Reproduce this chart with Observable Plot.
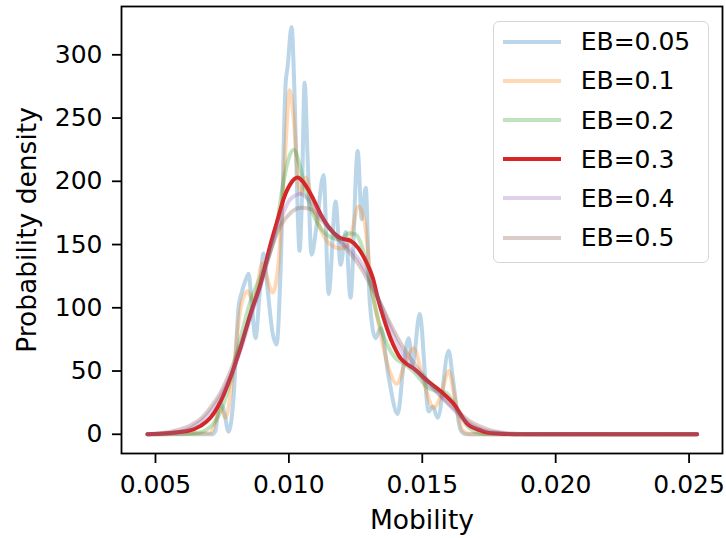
<!DOCTYPE html>
<html>
<head>
<meta charset="utf-8">
<script src="https://cdn.jsdelivr.net/npm/d3@7"></script>
<script src="https://cdn.jsdelivr.net/npm/@observablehq/plot@0.6"></script>
<style>
  html, body { margin: 0; padding: 0; background: white; }
  #wrap { position: relative; width: 726px; height: 538px; font-family: "DejaVu Sans", sans-serif; }
  #legend { position: absolute; box-sizing: border-box; background: white; border: 1.5px solid #d6d6d6; border-radius: 6px; }
  .row { position: absolute; height: 30px; display: flex; align-items: center; font-size: 25px; color: black; }
  .sw { position: absolute; height: 4px; }
  g[aria-label="x-axis label"], g[aria-label="y-axis label"] { font-size: 26.5px; }
</style>
</head>
<body>
<div id="wrap"></div>
<script>
// ---- data ----
const seriesNames = ["EB=0.05", "EB=0.1", "EB=0.2", "EB=0.3", "EB=0.4", "EB=0.5"];
const seriesColors = ["#1f77b4", "#ff7f0e", "#2ca02c", "#d62728", "#9467bd", "#8c564b"];
const seriesAlpha = [0.3, 0.3, 0.3, 1, 0.3, 0.3];

const xTicks = [0.005, 0.010, 0.015, 0.020, 0.025];
const yTicks = [0, 50, 100, 150, 200, 250, 300];

const eb005X = [0.00470, 0.00714, 0.00725, 0.00740, 0.00755, 0.00774, 0.00793, 0.00811, 0.00823, 0.00838, 0.00849, 0.00860, 0.00875, 0.00890, 0.00905, 0.00920, 0.00939, 0.00954, 0.00969, 0.00988, 0.00995, 0.01010, 0.01021, 0.01033, 0.01040, 0.01048, 0.01059, 0.01070, 0.01085, 0.01104, 0.01130, 0.01149, 0.01175, 0.01194, 0.01213, 0.01231, 0.01258, 0.01273, 0.01288, 0.01303, 0.01325, 0.01344, 0.01374, 0.01408, 0.01430, 0.01449, 0.01464, 0.01490, 0.01524, 0.01539, 0.01558, 0.01599, 0.01614, 0.01644, 0.01663, 0.02530];
const eb005Y = [0, 0, 3, 25, 20, 2, 30, 100, 112, 122, 127, 105, 76, 110, 143, 115, 80, 71, 130, 278, 290, 322, 270, 175, 145, 180, 278, 220, 142, 165, 205, 111, 184, 134, 160, 108, 224, 170, 195, 105, 76, 84, 45, 16, 55, 76, 55, 95, 18, 22, 13, 66, 45, 3, 0, 0];

const eb01X = [0.00470, 0.00706, 0.00725, 0.00744, 0.00763, 0.00789, 0.00819, 0.00845, 0.00868, 0.00901, 0.00916, 0.00939, 0.00961, 0.00984, 0.01003, 0.01018, 0.01033, 0.01044, 0.01063, 0.01093, 0.01119, 0.01156, 0.01194, 0.01224, 0.01261, 0.01284, 0.01310, 0.01336, 0.01374, 0.01404, 0.01438, 0.01468, 0.01501, 0.01543, 0.01569, 0.01599, 0.01625, 0.01651, 0.01681, 0.02530];
const eb01Y = [0, 1, 10, 21, 13, 45, 100, 113, 105, 135, 125, 112, 135, 215, 272, 250, 205, 190, 203, 178, 162, 150, 147, 150, 180, 168, 116, 88, 52, 40, 58, 68, 45, 21, 30, 50, 25, 3, 0, 0];

const eb02X = [0.00470, 0.00651, 0.00706, 0.00744, 0.00781, 0.00819, 0.00856, 0.00894, 0.00924, 0.00954, 0.00980, 0.00999, 0.01018, 0.01040, 0.01063, 0.01089, 0.01119, 0.01156, 0.01194, 0.01224, 0.01250, 0.01276, 0.01306, 0.01336, 0.01366, 0.01400, 0.01438, 0.01479, 0.01520, 0.01558, 0.01588, 0.01625, 0.01663, 0.01700, 0.01756, 0.02530];
const eb02Y = [0, 1, 6, 18, 42, 76, 105, 125, 140, 165, 200, 218, 225, 213, 192, 175, 163, 156, 154, 159, 158, 147, 118, 90, 72, 60, 55, 47, 37, 34, 33, 22, 8, 2, 0, 0];

const eb03X = [0.00470, 0.00620, 0.00669, 0.00706, 0.00744, 0.00781, 0.00819, 0.00856, 0.00894, 0.00931, 0.00961, 0.00980, 0.01006, 0.01033, 0.01055, 0.01089, 0.01119, 0.01156, 0.01194, 0.01231, 0.01261, 0.01288, 0.01314, 0.01333, 0.01355, 0.01381, 0.01400, 0.01419, 0.01440, 0.01468, 0.01520, 0.01569, 0.01618, 0.01670, 0.01719, 0.01745, 0.01794, 0.01869, 0.02530];
const eb03Y = [0, 2.6, 6.6, 13, 26, 45, 68.5, 95, 119, 150, 172, 186, 198, 203, 199, 187, 174, 162, 155, 153, 147, 137, 124, 108, 92, 76, 67, 60, 56, 52, 42, 34, 24, 8, 3, 1.3, 0.5, 0, 0];

const eb04X = [0.00470, 0.00594, 0.00631, 0.00669, 0.00706, 0.00744, 0.00781, 0.00819, 0.00856, 0.00894, 0.00931, 0.00969, 0.01006, 0.01044, 0.01081, 0.01119, 0.01156, 0.01194, 0.01231, 0.01269, 0.01306, 0.01344, 0.01381, 0.01419, 0.01456, 0.01494, 0.01531, 0.01569, 0.01606, 0.01644, 0.01681, 0.01719, 0.01756, 0.01794, 0.01869, 0.02530];
const eb04Y = [0, 2, 5, 10, 18, 30, 46, 67, 92, 117, 145, 170, 186, 190, 184, 173, 162, 153, 146, 136, 121, 103, 84, 67, 55, 46, 38, 30, 22, 14, 8, 4, 2, 1, 0.2, 0];

const eb05X = [0.00470, 0.00556, 0.00594, 0.00631, 0.00669, 0.00706, 0.00744, 0.00781, 0.00819, 0.00856, 0.00894, 0.00931, 0.00969, 0.01006, 0.01044, 0.01081, 0.01119, 0.01156, 0.01194, 0.01231, 0.01269, 0.01306, 0.01344, 0.01381, 0.01419, 0.01456, 0.01494, 0.01531, 0.01569, 0.01606, 0.01644, 0.01681, 0.01719, 0.01756, 0.01794, 0.01831, 0.01906, 0.02530];
const eb05Y = [0, 2, 4, 7, 12, 21, 33, 50, 71, 95, 120, 145, 165, 175, 179, 178, 170, 162, 152, 143, 132, 118, 103, 87, 72, 60, 49, 40, 31, 23, 16, 10, 6, 3, 1.5, 0.5, 0.1, 0];

// ---- build ----
const allX = [eb005X, eb01X, eb02X, eb03X, eb04X, eb05X];
const allY = [eb005Y, eb01Y, eb02Y, eb03Y, eb04Y, eb05Y];
const series = allX.map((xs, k) => xs.map((m, i) => ({m, d: allY[k][i]})));

const W = 726, H = 538;
const chart = Plot.plot({
  width: W, height: H,
  marginLeft: 121, marginRight: 4, marginTop: 6, marginBottom: 85,
  style: {fontFamily: "DejaVu Sans", fontSize: "25px", color: "black", background: "white", overflow: "visible"},
  x: {domain: [0.003726, 0.026253]},
  y: {domain: [-15.2, 338.2]},
  marks: [
    ...series.map((data, k) => Plot.line(data, {
      x: "m", y: "d", curve: "monotone-x",
      stroke: seriesColors[k], strokeOpacity: seriesAlpha[k], strokeWidth: 4
    })),
    Plot.frame({stroke: "black", strokeWidth: 1.8}),
    Plot.axisX({ticks: xTicks, tickFormat: d3.format(".3f"), tickSize: 10, tickPadding: 12, strokeWidth: 1.8,
      label: "Mobility", labelAnchor: "center", labelArrow: "none", labelOffset: 75}),
    Plot.axisY({ticks: yTicks, tickSize: 9, tickPadding: 10, strokeWidth: 1.8,
      label: "Probability density", labelAnchor: "center", labelArrow: "none", labelOffset: 104})
  ]
});

const wrap = document.getElementById("wrap");
wrap.appendChild(chart);

// legend
const leg = document.createElement("div");
leg.id = "legend";
Object.assign(leg.style, {left: "492.7px", top: "20.7px", width: "216px", height: "242px"});
const rowCenters = [20, 59.3, 98.4, 137.6, 176.7, 216];
seriesNames.forEach((name, k) => {
  const sw = document.createElement("div");
  sw.className = "sw";
  Object.assign(sw.style, {left: "9px", width: "58px", top: (rowCenters[k] - 2) + "px",
    background: seriesColors[k], opacity: seriesAlpha[k]});
  leg.appendChild(sw);
  const row = document.createElement("div");
  row.className = "row";
  Object.assign(row.style, {left: "87px", top: (rowCenters[k] - 15) + "px"});
  row.textContent = name;
  leg.appendChild(row);
});
wrap.appendChild(leg);
</script>
</body>
</html>
